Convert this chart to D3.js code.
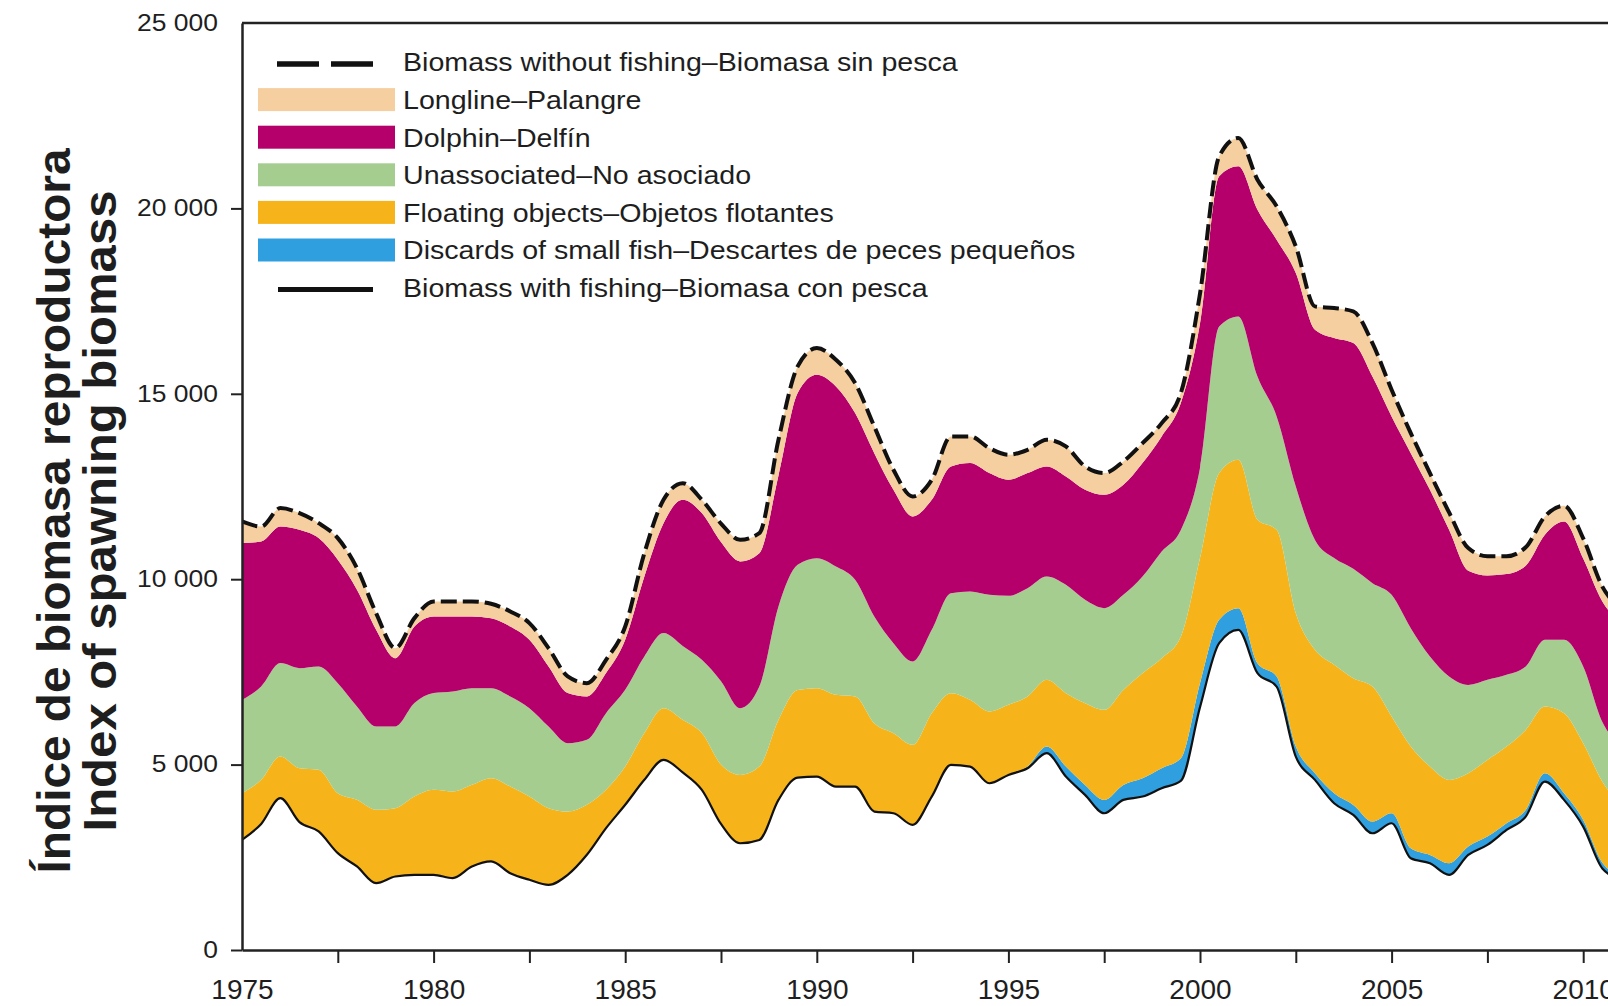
<!DOCTYPE html>
<html><head><meta charset="utf-8">
<script src="https://cdn.jsdelivr.net/npm/d3@7"></script>
<style>
html,body{margin:0;padding:0;background:#fff;overflow:hidden}
svg{display:block}
text{font-family:"Liberation Sans",Arial,sans-serif;fill:#1e1e1e}
</style></head><body>
<svg id="chart" width="1608" height="1006"></svg>
<script>
// ---- data (half-year steps) ----
const years = [
 1975,1975.5,1976,1976.5,1977,1977.5,1978,1978.5,1979,1979.5,
 1980,1980.5,1981,1981.5,1982,1982.5,1983,1983.5,1984,1984.5,
 1985,1985.5,1986,1986.5,1987,1987.5,1988,1988.5,1989,1989.5,
 1990,1990.5,1991,1991.5,1992,1992.5,1993,1993.5,1994,1994.5,
 1995,1995.5,1996,1996.5,1997,1997.5,1998,1998.5,1999,1999.5,
 2000,2000.5,2001,2001.5,2002,2002.5,2003,2003.5,2004,2004.5,
 2005,2005.5,2006,2006.5,2007,2007.5,2008,2008.5,2009,2009.5,
 2010,2010.5,2011];
// Biomass with fishing (bottom line)
const withFishing = [
 2972,3400,4096,3450,3197,2612,2253,1803,1983,2028,
 2028,1938,2250,2388,2073,1893,1758,2028,2568,3287,
 3916,4590,5130,4790,4320,3400,2879,2968,4048,4650,
 4677,4407,4407,3733,3688,3373,4138,4992,4947,4497,
 4722,4902,5307,4677,4183,3688,4048,4138,4362,4560,
 6550,8275,8634,7465,7105,5217,4587,3958,3643,3148,
 3418,2474,2339,2024,2564,2833,3238,3598,4543,4048,
 3328,2200,1900];
const discards = [
 0,0,0,0,0,0,0,0,0,0,
 0,0,0,0,0,0,0,0,0,0,
 0,0,0,0,0,0,0,0,0,0,
 0,0,0,0,0,0,0,0,0,0,
 20,50,180,270,270,360,405,494,540,610,
 645,629,585,270,270,270,180,270,270,315,
 270,270,225,315,225,225,180,180,224,180,
 180,150,100];
const floating = [
 1258,1190,1123,1450,1663,1618,1798,1978,1843,2113,
 2292,2337,2205,2247,2337,2248,2068,1708,1348,1033,
 1034,1259,1393,1418,1529,1600,1843,1979,2158,2365,
 2383,2474,2429,2383,2158,2159,2248,1934,1799,1934,
 1869,1884,1798,1979,2203,2428,2562,2833,2968,3280,
 3375,3957,4002,3865,3957,3597,3328,3462,3417,3642,
 2608,2743,2383,2248,1978,2069,2069,2158,1799,2158,
 2069,2190,1900];
const unassociated = [
 2518,2517,2518,2700,2787,2967,2517,2247,2202,2517,
 2608,2697,2607,2427,2428,2382,2202,1843,1753,2068,
 2067,2067,2023,1992,1977,2250,1799,2158,3058,3373,
 3508,3462,3147,2878,2428,2248,2248,2697,2922,3147,
 2940,2922,2788,2922,2787,2743,2563,2608,2877,2880,
 2430,3957,3867,3869,3058,3416,2965,2880,2950,2788,
 3283,3192,2968,2788,2383,2158,1933,1709,1798,1978,
 2068,1610,1600];
const dolphin = [
 4225,3911,3685,3732,3461,3326,3146,2608,1843,2067,
 2067,2023,1933,1888,1887,1843,1619,1349,1169,1079,
 1349,2158,2966,3942,3956,3750,3957,3598,3536,4631,
 4946,4856,4496,4406,4137,3912,3507,3418,3463,3283,
 3130,3103,2968,2923,2968,3057,2968,3058,3103,3420,
 3900,4047,4046,4497,4766,5757,5668,5933,6088,5576,
 4811,4721,4496,3957,3080,2815,2720,2720,2836,3193,
 2915,3250,3300];
const longline = [
 584,402,495,450,404,585,586,449,270,225,
 405,405,405,387,405,449,494,449,359,359,
 359,629,630,449,360,500,584,539,960,720,
 719,719,810,720,540,539,540,809,719,674,
 674,629,719,809,630,585,630,539,360,270,
 800,539,765,809,899,719,629,809,854,899,
 719,540,450,468,610,520,480,495,492,423,
 540,400,400];

const layerKeys = ["discards","floating","unassociated","dolphin","longline"];
const layerColors = ["#2f9fe0","#f6b41a","#a6cd90","#b5006c","#f5cfa0"];
const legendItems = [
 {label:"Biomass without fishing\u2013Biomasa sin pesca", kind:"dash"},
 {label:"Longline\u2013Palangre", kind:"box", color:"#f5cfa0"},
 {label:"Dolphin\u2013Delf\u00edn", kind:"box", color:"#b5006c"},
 {label:"Unassociated\u2013No asociado", kind:"box", color:"#a6cd90"},
 {label:"Floating objects\u2013Objetos flotantes", kind:"box", color:"#f6b41a"},
 {label:"Discards of small fish\u2013Descartes de peces peque\u00f1os", kind:"box", color:"#2f9fe0"},
 {label:"Biomass with fishing\u2013Biomasa con pesca", kind:"line"}
];
const yTickValues = [0,5000,10000,15000,20000,25000];
const xTickValues = [1975,1977.5,1980,1982.5,1985,1987.5,1990,1992.5,1995,1997.5,2000,2002.5,2005,2007.5,2010,2012.5];
const yTitleLines = ["\u00cdndice de biomasa reproductora","Index of spawning biomass"];

// ---- layout ----
const W = 1608, H = 1006;
const x0 = 242, yBottom = 950, yTop = 23;
const x = d3.scaleLinear().domain([1975, 2012]).range([x0, x0 + 37 * 38.32]);
const y = d3.scaleLinear().domain([0, 25000]).range([yBottom, yTop]);

const svg = d3.select("#chart");
svg.append("rect").attr("width",W).attr("height",H).attr("fill","#fff");

const rows = years.map((yr,i)=>({year:yr, base:withFishing[i], discards:discards[i],
  floating:floating[i], unassociated:unassociated[i], dolphin:dolphin[i], longline:longline[i]}));
const stacked = d3.stack().keys(["base", ...layerKeys])(rows);

svg.append("clipPath").attr("id","plotclip").append("rect")
  .attr("x",x0).attr("y",0).attr("width",W-x0).attr("height",yBottom);
const plot = svg.append("g").attr("clip-path","url(#plotclip)");

const curve = d3.curveMonotoneX;
const area = d3.area().curve(curve).x(d=>x(d.data.year)).y0(d=>y(d[0])).y1(d=>y(d[1]));
stacked.slice(1).forEach((s,i)=>{
  plot.append("path").attr("d", area(s)).attr("fill", layerColors[i]).attr("stroke","none");
});
const topLine = d3.line().curve(curve).x(d=>x(d.data.year)).y(d=>y(d[1]));
plot.append("path").attr("d", topLine(stacked[0])).attr("fill","none")
  .attr("stroke","#111").attr("stroke-width",2.2);
plot.append("path").attr("d", topLine(stacked[stacked.length-1])).attr("fill","none")
  .attr("stroke","#111").attr("stroke-width",4).attr("stroke-dasharray","16,6");

// ---- axes ----
const xAxis = d3.axisBottom(x).tickValues(xTickValues).tickSize(13).tickSizeOuter(0)
  .tickPadding(16).tickFormat(d => d % 5 === 0 ? d : "");
const gx = svg.append("g").attr("transform",`translate(0,${yBottom})`).call(xAxis);
gx.select(".domain").attr("stroke","#222").attr("stroke-width",2.5);
gx.selectAll(".tick line").attr("stroke","#222").attr("stroke-width",2)
  .attr("visibility", d => d === 1975 ? "hidden" : null);
gx.selectAll(".tick text").attr("font-size",28).attr("fill","#1e1e1e")
  .attr("font-family","Liberation Sans, Arial, sans-serif");

const fmt = d => d3.format(",")(d).replace(/,/g," ");
const yAxis = d3.axisLeft(y).tickValues(yTickValues).tickSize(11).tickSizeOuter(0)
  .tickPadding(10).tickFormat(fmt);
const gy = svg.append("g").attr("transform",`translate(${x0},0)`).call(yAxis);
gy.select(".domain").attr("stroke","#222").attr("stroke-width",2.5);
gy.selectAll(".tick line").attr("stroke","#222").attr("stroke-width",2)
  .attr("visibility", d => d === 25000 ? "hidden" : null);
gy.selectAll(".tick text").attr("font-size",23).attr("fill","#1e1e1e")
  .attr("font-family","Liberation Sans, Arial, sans-serif")
  .attr("transform","scale(1.15,1)");

svg.append("line").attr("x1",x0).attr("x2",W).attr("y1",yTop).attr("y2",yTop)
  .attr("stroke","#222").attr("stroke-width",2.5);

// ---- legend ----
const leg = svg.append("g");
legendItems.forEach((it,i)=>{
  const cy = 62 + i*37.6;
  const g = leg.append("g").attr("transform",`translate(0,${cy})`);
  if (it.kind === "box") {
    g.append("rect").attr("x",258).attr("y",-11.5).attr("width",137).attr("height",23).attr("fill",it.color);
  } else if (it.kind === "dash") {
    g.append("line").attr("x1",277).attr("x2",374).attr("y1",2).attr("y2",2)
      .attr("stroke","#111").attr("stroke-width",5.5).attr("stroke-dasharray","42,12");
  } else {
    g.append("line").attr("x1",278).attr("x2",373).attr("y1",2).attr("y2",2)
      .attr("stroke","#111").attr("stroke-width",5);
  }
  g.append("text").attr("transform","translate(403,0) scale(1.1,1)").attr("dy","0.36em")
    .attr("font-size",26).text(it.label);
});

// ---- y title ----
const yt = svg.append("g");
[[70, yTitleLines[0], 725],[116, yTitleLines[1], 641]].forEach(([bx,t,len])=>{
  yt.append("text").attr("transform",`translate(${bx},511) rotate(-90)`)
    .attr("text-anchor","middle").attr("font-size",46).attr("font-weight","bold")
    .attr("textLength",len).attr("lengthAdjust","spacingAndGlyphs")
    .attr("fill","#111").text(t);
});
</script>
</body></html>
